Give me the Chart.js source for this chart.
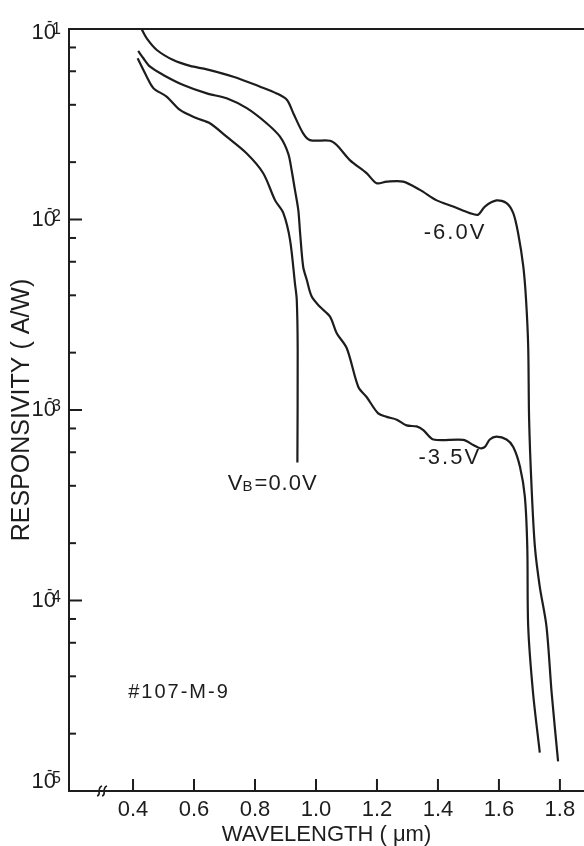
<!DOCTYPE html>
<html lang="en">
<head>
<meta charset="UTF-8">
<title>Responsivity vs wavelength #107-M-9</title>
<script src="https://cdn.jsdelivr.net/npm/chart.js@4"></script>
<style>
  html, body { margin: 0; padding: 0; background: #fff; }
</style>
</head>
<body>
<canvas id="respChart" width="584" height="846"></canvas>
<script>
// wavelength (um) / responsivity (A/W)
const wlBias60 = [0.428, 0.445, 0.478, 0.532, 0.587, 0.642, 0.729, 0.817, 0.871, 0.905, 0.926, 0.958, 0.980,
                  1.046, 1.068, 1.111, 1.166, 1.199, 1.232, 1.286, 1.341, 1.396, 1.450, 1.505, 1.532, 1.554,
                  1.592, 1.625, 1.647, 1.663, 1.680, 1.689, 1.696, 1.699, 1.707, 1.718, 1.734, 1.756, 1.773, 1.794];
const respBias60 = [0.100, 0.0893, 0.0776, 0.0687, 0.0640, 0.0614, 0.0562, 0.0498, 0.0459, 0.0424, 0.0360, 0.0283, 0.0261,
                    0.0259, 0.0246, 0.0205, 0.0175, 0.0155, 0.0158, 0.0158, 0.0143, 0.0126, 0.0117, 0.0108, 0.0106, 0.0117,
                    0.0126, 0.0122, 0.0108, 0.00847, 0.00565, 0.00378, 0.00215, 8.9e-4, 3.95e-4, 1.91e-4, 1.18e-4, 7.3e-5, 3.26e-5, 1.43e-5];

const wlBias35 = [0.417, 0.434, 0.456, 0.499, 0.565, 0.642, 0.707, 0.773, 0.838, 0.882, 0.909, 0.920, 0.931, 0.942,
                  0.948, 0.958, 0.970, 0.986, 1.013, 1.046, 1.068, 1.101, 1.139, 1.166, 1.204, 1.232, 1.265, 1.297,
                  1.330, 1.352, 1.385, 1.483, 1.516, 1.538, 1.554, 1.570, 1.592, 1.625, 1.647, 1.669, 1.685, 1.693,
                  1.696, 1.712, 1.734];
const respBias35 = [0.0767, 0.0702, 0.0634, 0.0574, 0.0508, 0.0459, 0.0433, 0.0384, 0.0320, 0.0272, 0.0222, 0.0182, 0.0143, 0.0112,
                    0.00847, 0.00565, 0.00481, 0.00394, 0.00348, 0.00309, 0.00253, 0.00211, 0.00132, 0.00117, 9.6e-4, 9.2e-4, 8.9e-4, 8.3e-4,
                    8.2e-4, 7.85e-4, 7.0e-4, 6.97e-4, 6.55e-4, 6.3e-4, 6.4e-4, 7.0e-4, 7.24e-4, 7.0e-4, 6.4e-4, 5.04e-4, 3.51e-4, 1.91e-4,
                    7.3e-5, 3.26e-5, 1.59e-5];

const wlBias00 = [0.415, 0.445, 0.467, 0.510, 0.554, 0.609, 0.652, 0.707, 0.773, 0.827, 0.866, 0.893, 0.915, 0.931,
                  0.937, 0.940, 0.939];
const respBias00 = [0.0702, 0.0562, 0.0489, 0.0442, 0.0376, 0.0340, 0.0320, 0.0272, 0.0222, 0.0175, 0.0126, 0.0108, 0.0078, 0.00462,
                    0.00378, 0.00207, 5.3e-4];

// axes
const xTickValues = [0.4, 0.6, 0.8, 1.0, 1.2, 1.4, 1.6, 1.8];
const yDecades = [1e-1, 1e-2, 1e-3, 1e-4, 1e-5];
const yExponents = ['1', '2', '3', '4', '5'];
const xBreakAt = 0.3;

// curve labels placed at (wavelength, responsivity)
const curveLabels = [
  { text: '-6.0V', x: 1.456, y: 8.5e-3 },
  { text: '-3.5V', x: 1.439, y: 5.6e-4 }
];
const biasLabel = { main: 'V', sub: 'B', rest: '=0.0V', x: 0.711, y: 4.1e-4 };
const sampleLabel = { text: '#107-M-9', x: 0.384, y: 3.27e-5 };

const INK = '#1d1d1d';
const FONT = '"Liberation Sans", Arial, sans-serif';
const NARROW = '"Liberation Sans Narrow", "Liberation Sans", Arial, sans-serif';

function pts(xs, ys) {
  return xs.map((x, i) => ({ x: x, y: ys[i] }));
}

const lineStyle = { borderColor: INK, borderWidth: 2.2, pointRadius: 0, tension: 0.3, fill: false, showLine: true };

const decorations = {
  id: 'decorations',
  afterDraw(chart) {
    const ctx = chart.ctx;
    const xs = chart.scales.x, ys = chart.scales.y;
    const area = chart.chartArea;
    ctx.save();
    ctx.strokeStyle = INK;
    ctx.fillStyle = INK;
    ctx.lineWidth = 2;

    // inside ticks on the y axis (2,4,6,8 per decade)
    for (let d = 0; d < yDecades.length - 1; d++) {
      [2, 4, 6, 8].forEach(m => {
        const p = ys.getPixelForValue(yDecades[d + 1] * m);
        ctx.beginPath(); ctx.moveTo(area.left, p); ctx.lineTo(area.left + 7, p); ctx.stroke();
      });
    }
    yDecades.forEach(v => {
      const p = ys.getPixelForValue(v);
      ctx.beginPath(); ctx.moveTo(area.left, p); ctx.lineTo(area.left + 13, p); ctx.stroke();
    });
    xTickValues.forEach(v => {
      const p = xs.getPixelForValue(v);
      ctx.beginPath(); ctx.moveTo(p, area.bottom); ctx.lineTo(p, area.bottom - 12); ctx.stroke();
    });

    // axis break mark
    const bx = xs.getPixelForValue(xBreakAt), by = area.bottom;
    ctx.lineWidth = 1.6;
    [-2.5, 2.5].forEach(off => {
      ctx.beginPath();
      ctx.moveTo(bx + off - 3, by + 5);
      ctx.bezierCurveTo(bx + off + 2, by + 4, bx + off - 4, by - 3, bx + off + 2, by - 5);
      ctx.stroke();
    });

    // y tick labels 10^-n
    yDecades.forEach((v, i) => {
      let y = ys.getPixelForValue(v);
      y = Math.min(Math.max(y, area.top + 4), area.bottom - 9);
      ctx.font = '22px ' + NARROW;
      ctx.textAlign = 'right';
      ctx.textBaseline = 'middle';
      ctx.fillText('10', 56, y);
      ctx.font = '16px ' + NARROW;
      ctx.textAlign = 'left';
      ctx.textBaseline = 'alphabetic';
      ctx.fillText('-', 47, y - 7);
      ctx.fillText(yExponents[i], 52, y + 1);
    });

    // curve labels
    ctx.font = '22px ' + FONT;
    ctx.textAlign = 'center';
    ctx.textBaseline = 'middle';
    ctx.letterSpacing = '2px';
    curveLabels.forEach(l => {
      ctx.fillText(l.text, xs.getPixelForValue(l.x), ys.getPixelForValue(l.y));
    });
    ctx.letterSpacing = '0px';

    // V_B = 0.0V
    ctx.textAlign = 'left';
    let lx = xs.getPixelForValue(biasLabel.x);
    const ly = ys.getPixelForValue(biasLabel.y);
    ctx.font = '22px ' + FONT;
    ctx.fillText(biasLabel.main, lx, ly);
    lx += ctx.measureText(biasLabel.main).width;
    ctx.font = '15px ' + FONT;
    ctx.fillText(biasLabel.sub, lx, ly + 3);
    lx += ctx.measureText(biasLabel.sub).width + 2;
    ctx.font = '22px ' + FONT;
    ctx.letterSpacing = '1px';
    ctx.fillText(biasLabel.rest, lx, ly);

    // sample id
    ctx.font = '20px ' + FONT;
    ctx.letterSpacing = '2px';
    ctx.fillText(sampleLabel.text, xs.getPixelForValue(sampleLabel.x), ys.getPixelForValue(sampleLabel.y));
    ctx.restore();
  }
};

const xMin = 0.19, xMax = 1.879;

new Chart(document.getElementById('respChart'), {
  type: 'scatter',
  data: {
    datasets: [
      Object.assign({ label: '-6.0V', data: pts(wlBias60, respBias60) }, lineStyle),
      Object.assign({ label: '-3.5V', data: pts(wlBias35, respBias35) }, lineStyle),
      Object.assign({ label: 'VB=0.0V', data: pts(wlBias00, respBias00) }, lineStyle)
    ]
  },
  options: {
    responsive: false,
    animation: false,
    layout: { padding: 0 },
    plugins: { legend: { display: false }, tooltip: { enabled: false } },
    scales: {
      x: {
        type: 'linear',
        position: 'bottom',
        min: xMin,
        max: xMax,
        afterBuildTicks: s => { s.ticks = xTickValues.map(v => ({ value: v })); },
        afterFit: s => { s.height = 55; },
        grid: { display: false, drawTicks: false },
        border: { color: INK, width: 2 },
        ticks: {
          color: INK,
          font: { family: FONT, size: 22 },
          padding: 6,
          maxRotation: 0,
          autoSkip: false,
          callback: v => v.toFixed(1)
        },
        title: {
          display: true,
          text: 'WAVELENGTH ( \u03bcm)',
          color: INK,
          font: { family: FONT, size: 22, lineHeight: 1 },
          padding: { top: 0, bottom: 0 }
        }
      },
      xTop: {
        type: 'linear',
        position: 'top',
        min: xMin,
        max: xMax,
        afterFit: s => { s.height = 29; },
        grid: { display: false, drawTicks: false },
        border: { color: INK, width: 2 },
        ticks: { display: false }
      },
      y: {
        type: 'logarithmic',
        position: 'left',
        min: 1e-5,
        max: 1e-1,
        afterFit: s => { s.width = 69; },
        grid: { display: false, drawTicks: false },
        border: { color: INK, width: 2 },
        ticks: { display: false },
        title: {
          display: true,
          text: 'RESPONSIVITY ( A/W)',
          color: INK,
          font: { family: FONT, size: 25, lineHeight: 1 },
          padding: { top: 10, bottom: 0 }
        }
      }
    }
  },
  plugins: [decorations]
});
</script>
</body>
</html>
